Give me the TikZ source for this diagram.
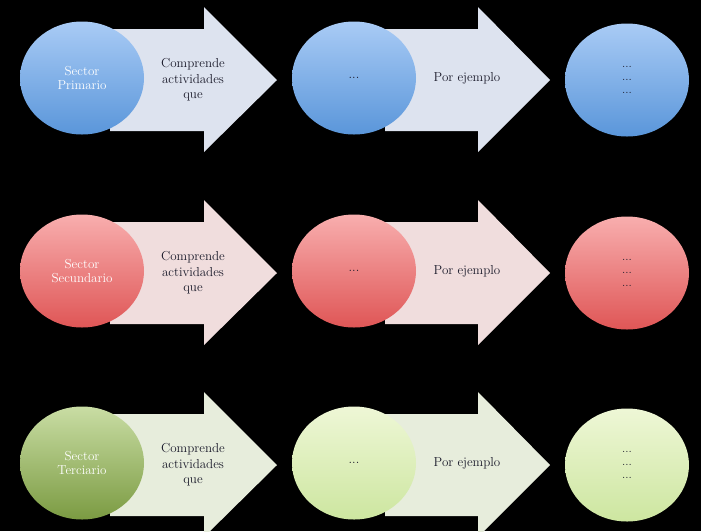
\documentclass[tikz,border=0pt]{standalone}
\usetikzlibrary{shapes.geometric}
\definecolor{bT}{HTML}{A9CBF5}\definecolor{bB}{HTML}{5A96DA}\definecolor{bA}{HTML}{DDE3EF}
\definecolor{rT}{HTML}{F8AEAE}\definecolor{rB}{HTML}{DF5656}\definecolor{rA}{HTML}{F0DDDD}
\definecolor{gT}{HTML}{C9DDA4}\definecolor{gB}{HTML}{7B9B42}\definecolor{gA}{HTML}{E7EDDC}
\definecolor{lT}{HTML}{EEF7D6}\definecolor{lB}{HTML}{CDE6A0}
\definecolor{txt}{HTML}{1A1A2A}
\begin{document}
\begin{tikzpicture}[x=1pt,y=-1pt,
  ell/.style={ellipse,minimum width=124pt,minimum height=113pt,inner sep=0pt,align=center,font=\fontsize{13}{14}\selectfont},
  lbl/.style={align=center,text=txt,font=\fontsize{13}{15.5}\selectfont,inner sep=0pt}]
\useasboundingbox (0,0) rectangle (701,531);
\clip (0,0) rectangle (701,531);
\fill[black] (0,0) rectangle (701,531);
\foreach \r/\dy/\T/\B/\A/\LT/\LB/\LC/\name in {0/0/bT/bB/bA/bT/bB/white/Sector\\Primario, 1/193/rT/rB/rA/rT/rB/white/Sector\\Secundario, 2/385/gT/gB/gA/lT/lB/white/Sector\\Terciario}{
  \begin{scope}[yshift=-\dy]
  \fill[\A] (110,29) -- (204,29) -- (204,7) -- (277,80) -- (204,152) -- (204,131) -- (110,131) -- cycle;
  \fill[\A] (385,29) -- (478,29) -- (478,7) -- (550,80) -- (478,152) -- (478,131) -- (385,131) -- cycle;
  \node[ell,top color=\T,bottom color=\B,text=\LC] (a\r) at (82,78) {\name};
  \node[lbl] (t\r) at (193,80) {Comprende\\actividades\\que};
  \node[ell,top color=\LT,bottom color=\LB,text=txt] (b\r) at (354,78) {...};
  \node[lbl] (p\r) at (467,78) {Por ejemplo};
  \node[ell,top color=\LT,bottom color=\LB,text=txt,font=\fontsize{12}{13}\selectfont] (c\r) at (627,80) {...\\...\\...};
  \end{scope}}
\end{tikzpicture}
\end{document}
